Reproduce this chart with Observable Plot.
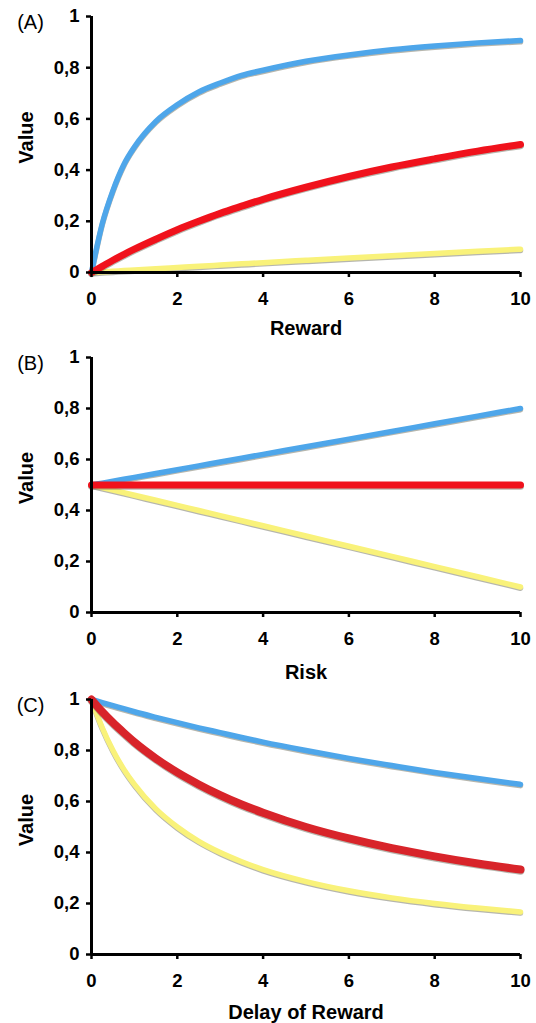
<!DOCTYPE html>
<html>
<head>
<meta charset="utf-8">
<script src="https://cdn.jsdelivr.net/npm/d3@7"></script>
<script src="https://cdn.jsdelivr.net/npm/@observablehq/plot@0.6"></script>
<style>
  html, body { margin: 0; padding: 0; background: #fff; }
  #chart svg { display: block; overflow: visible; }
</style>
</head>
<body>
<div id="chart"></div>
<script>
// ---- data ----
const xs = [0, 0.25, 0.5, 0.75, 1, 1.5, 2, 2.5, 3, 3.5, 4, 5, 6, 7, 8, 9, 10];
const xTicks = [0, 2, 4, 6, 8, 10];
const yTicks = [0, 0.2, 0.4, 0.6, 0.8, 1];

// (A) Reward
const rewardBlue   = [0, 0.19, 0.32, 0.42, 0.49, 0.59, 0.655, 0.705, 0.74, 0.77, 0.79, 0.825, 0.85, 0.87, 0.885, 0.897, 0.906];
const rewardRed    = [0, 0.024, 0.048, 0.07, 0.091, 0.13, 0.167, 0.2, 0.231, 0.259, 0.286, 0.333, 0.375, 0.412, 0.444, 0.474, 0.5];
const rewardYellow = [0, 0.0025, 0.005, 0.0074, 0.0099, 0.0148, 0.0196, 0.0244, 0.0291, 0.0338, 0.0385, 0.0476, 0.0566, 0.0654, 0.0741, 0.0826, 0.091];

// (B) Risk
const riskBlue   = [0.5, 0.5075, 0.515, 0.5225, 0.53, 0.545, 0.56, 0.575, 0.59, 0.605, 0.62, 0.65, 0.68, 0.71, 0.74, 0.77, 0.8];
const riskRed    = [0.5, 0.5, 0.5, 0.5, 0.5, 0.5, 0.5, 0.5, 0.5, 0.5, 0.5, 0.5, 0.5, 0.5, 0.5, 0.5, 0.5];
const riskYellow = [0.5, 0.49, 0.48, 0.47, 0.46, 0.44, 0.42, 0.4, 0.38, 0.36, 0.34, 0.3, 0.26, 0.22, 0.18, 0.14, 0.1];

// (C) Delay of Reward
const delayBlue   = [1, 0.988, 0.976, 0.964, 0.952, 0.93, 0.909, 0.889, 0.87, 0.851, 0.833, 0.8, 0.769, 0.741, 0.714, 0.69, 0.667];
const delayRed    = [1, 0.952, 0.909, 0.87, 0.833, 0.769, 0.714, 0.667, 0.625, 0.588, 0.556, 0.5, 0.455, 0.417, 0.385, 0.357, 0.333];
const delayYellow = [1, 0.889, 0.8, 0.727, 0.667, 0.571, 0.5, 0.444, 0.4, 0.364, 0.333, 0.286, 0.25, 0.222, 0.2, 0.182, 0.167];

const panelLabels = ["(A)", "(B)", "(C)"];
const xLabels = ["Reward", "Risk", "Delay of Reward"];
const yLabel = "Value";

// ---- drawing ----
const FONT = "Arial, 'Liberation Sans', Helvetica, sans-serif";
const fmt = d => String(d).replace(".", ",");
const toRows = ys => xs.map((x, i) => ({x, y: ys[i]}));

function panel({label, xlabel, blue, red, yellow, redColor, redWidth, marginTop, marginBottom, xlabelDy}) {
  const series = [
    {rows: toRows(yellow), color: "#f9f27a", w: 5.5},
    {rows: toRows(blue), color: "#4ea6ea", w: 5.5},
    {rows: toRows(red), color: redColor, w: redWidth}
  ];
  const marks = [];
  for (const s of series) {
    marks.push(Plot.line(s.rows, {x: "x", y: "y", stroke: "#7a7a6a", strokeOpacity: 0.55, strokeWidth: s.w, dy: 1.2, curve: "monotone-x"}));
    marks.push(Plot.line(s.rows, {x: "x", y: "y", stroke: s.color, strokeWidth: s.w, curve: "monotone-x"}));
  }
  return Plot.plot({
    width: 536,
    height: 341,
    marginLeft: 91,
    marginRight: 16,
    marginTop,
    marginBottom,
    style: {fontFamily: FONT, background: "white", overflow: "visible", color: "black"},
    x: {domain: [0, 10], axis: null},
    y: {domain: [0, 1], axis: null},
    marks: [
      ...marks,
      Plot.ruleX([0], {stroke: "black", strokeWidth: 3}),
      Plot.ruleY([0], {stroke: "black", strokeWidth: 3}),
      Plot.axisY({ticks: yTicks, tickFormat: fmt, tickSize: 5, tickPadding: 7, strokeWidth: 2.5, fontSize: 18.5, fontWeight: "bold", fill: "black", label: null}),
      Plot.axisX({ticks: xTicks, tickSize: 5, tickPadding: 14, strokeWidth: 2.5, fontSize: 18.5, fontWeight: "bold", fill: "black", label: null}),
      Plot.text([yLabel], {frameAnchor: "left", text: d => d, rotate: -90, dx: -65, dy: -7, fontSize: 20, fontWeight: "bold", fill: "black", textAnchor: "middle", lineAnchor: "middle"}),
      Plot.text([xlabel], {frameAnchor: "bottom", text: d => d, dy: xlabelDy, fontSize: 20, fontWeight: "bold", fill: "black", textAnchor: "middle", lineAnchor: "middle"}),
      Plot.text([label], {frameAnchor: "top-left", text: d => d, dx: -61, dy: 6, fontSize: 20, fill: "black", textAnchor: "middle", lineAnchor: "middle"})
    ]
  });
}

const root = document.getElementById("chart");
root.append(panel({label: panelLabels[0], xlabel: xLabels[0], blue: rewardBlue, red: rewardRed, yellow: rewardYellow, redColor: "#f0121c", redWidth: 7, marginTop: 16, marginBottom: 69, xlabelDy: 56}));
root.append(panel({label: panelLabels[1], xlabel: xLabels[1], blue: riskBlue, red: riskRed, yellow: riskYellow, redColor: "#f0121c", redWidth: 7, marginTop: 16, marginBottom: 70, xlabelDy: 60}));
root.append(panel({label: panelLabels[2], xlabel: xLabels[2], blue: delayBlue, red: delayRed, yellow: delayYellow, redColor: "#d8242a", redWidth: 8, marginTop: 17, marginBottom: 69, xlabelDy: 58}));
</script>
</body>
</html>
